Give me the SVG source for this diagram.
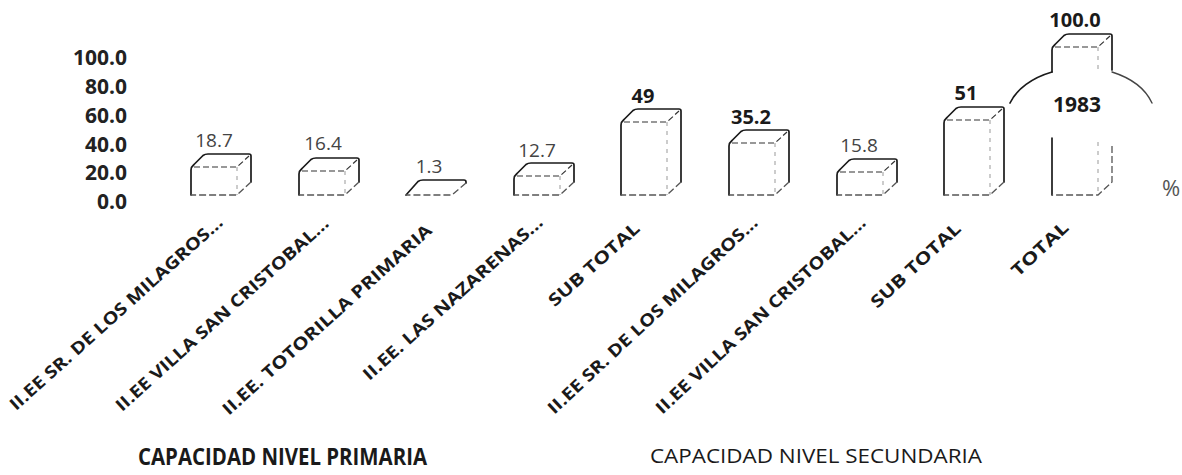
<svg xmlns="http://www.w3.org/2000/svg" width="1182" height="475" viewBox="0 0 1182 475">
<style>
text{font-family:"Open Sans","Liberation Sans",sans-serif;fill:#1a1a1a}
.ax{font-size:21px;font-weight:bold;text-anchor:end;fill:#222}
.val{font-size:19px;text-anchor:middle}
.vb{font-weight:bold;font-size:20px}
.vl{fill:#444}
.cat{font-size:17px;font-weight:bold;text-anchor:end}
.solid{fill:none;stroke:#1a1a1a;stroke-width:1.7;stroke-linejoin:round;stroke-linecap:round}
.dash{fill:none;stroke:#555;stroke-width:1.3;stroke-dasharray:7 3}
.inner{fill:none;stroke:#333;stroke-width:1.2;stroke-dasharray:6 3}
.fr{fill:none;stroke:#999;stroke-width:1;stroke-dasharray:4 5}
</style>
<rect width="1182" height="475" fill="#fff"/>
<g id="y-axis">
<text class="ax" x="127" y="65">100.0</text>
<text class="ax" x="127" y="94">80.0</text>
<text class="ax" x="127" y="123">60.0</text>
<text class="ax" x="127" y="152">40.0</text>
<text class="ax" x="127" y="180">20.0</text>
<text class="ax" x="127" y="209">0.0</text>
</g>
<g id="bar1">
<path class="solid" d="M191,195 V170 Q191,167 194,164.5 L203,155.5 Q205,154 208,154 H249 Q251,154 251,156 V182"/>
<path class="dash" d="M251,182 L237,195 H191"/>
<path class="inner" d="M194,167 H237 L249,156"/>
<path class="fr" d="M237,167 V195"/>
<text class="val vl" x="214" y="147">18.7</text>
</g>
<g id="bar2">
<path class="solid" d="M299,195 V174 Q299,171 302,168.5 L311,159.5 Q313,158 316,158 H357 Q359,158 359,160 V182"/>
<path class="dash" d="M359,182 L345,195 H299"/>
<path class="inner" d="M302,171 H345 L357,160"/>
<path class="fr" d="M345,171 V195"/>
<text class="val vl" x="323" y="150">16.4</text>
</g>
<g id="bar3">
<path class="solid" d="M406,195 L418,181.5 Q420,180 423,180 H464 Q466,180 466,182 V183"/>
<path class="dash" d="M466,183 L452,195 H406"/>
<text class="val vl" x="429" y="173">1.3</text>
</g>
<g id="bar4">
<path class="solid" d="M514,195 V179 Q514,176 517,173.5 L526,164.5 Q528,163 531,163 H572 Q574,163 574,165 V182"/>
<path class="dash" d="M574,182 L560,195 H514"/>
<path class="inner" d="M517,176 H560 L572,165"/>
<path class="fr" d="M560,176 V195"/>
<text class="val vl" x="537" y="157">12.7</text>
</g>
<g id="bar5">
<path class="solid" d="M621,195 V125 Q621,122 624,119.5 L633,110.5 Q635,109 638,109 H679 Q681,109 681,111 V182"/>
<path class="dash" d="M681,182 L667,195 H621"/>
<path class="inner" d="M624,122 H667 L679,111"/>
<path class="fr" d="M667,122 V195"/>
<text class="val vb" x="643" y="103">49</text>
</g>
<g id="bar6">
<path class="solid" d="M729,195 V146 Q729,143 732,140.5 L741,131.5 Q743,130 746,130 H787 Q789,130 789,132 V182"/>
<path class="dash" d="M789,182 L775,195 H729"/>
<path class="inner" d="M732,143 H775 L787,132"/>
<path class="fr" d="M775,143 V195"/>
<text class="val vb" x="751" y="124">35.2</text>
</g>
<g id="bar7">
<path class="solid" d="M837,195 V175 Q837,172 840,169.5 L849,160.5 Q851,159 854,159 H895 Q897,159 897,161 V182"/>
<path class="dash" d="M897,182 L883,195 H837"/>
<path class="inner" d="M840,172 H883 L895,161"/>
<path class="fr" d="M883,172 V195"/>
<text class="val vl" x="859" y="152">15.8</text>
</g>
<g id="bar8">
<path class="solid" d="M944,195 V123 Q944,120 947,117.5 L956,108.5 Q958,107 961,107 H1002 Q1004,107 1004,109 V182"/>
<path class="dash" d="M1004,182 L990,195 H944"/>
<path class="inner" d="M947,120 H990 L1002,109"/>
<path class="fr" d="M990,120 V195"/>
<text class="val vb" x="966" y="100">51</text>
</g>
<g id="bar9">
<path class="solid" d="M1052,72 V50 Q1052,47 1055,44.5 L1064,35.5 Q1066,34 1069,34 H1110 Q1112,34 1112,36 V70"/>
<path class="solid" d="M1052,138 V195"/>
<path class="dash" d="M1112,146 V182 L1098,195 H1052"/>
<path class="inner" d="M1055,47 H1098 L1110,36"/>
<path class="fr" d="M1098,47 V70 M1098,142 V195"/>
<path class="solid" d="M1010,103 A75,51 0 0,1 1052,72"/>
<path class="solid" style="stroke:#444;stroke-width:1.4" d="M1112,72 A75,51 0 0,1 1152,103"/>
<text class="val vb" x="1075" y="27" style="font-size:20px">100.0</text>
<text class="val vb" x="1077" y="112" style="font-size:21px">1983</text>
</g>
<text x="1162" y="196" style="font-size:22px;fill:#555">%</text>
<g id="categories">
<text class="cat" transform="translate(224,224) rotate(-42)" textLength="280" lengthAdjust="spacingAndGlyphs">II.EE SR. DE LOS MILAGROS...</text>
<text class="cat" transform="translate(330,225) rotate(-42)" textLength="280" lengthAdjust="spacingAndGlyphs">II.EE VILLA SAN CRISTOBAL...</text>
<text class="cat" transform="translate(433,232) rotate(-42)" textLength="275" lengthAdjust="spacingAndGlyphs">II.EE. TOTORILLA PRIMARIA</text>
<text class="cat" transform="translate(544,224) rotate(-42)" textLength="235" lengthAdjust="spacingAndGlyphs">II.EE. LAS NAZARENAS...</text>
<text class="cat" transform="translate(641,230) rotate(-42)" textLength="116" lengthAdjust="spacingAndGlyphs">SUB TOTAL</text>
<text class="cat" transform="translate(759,224) rotate(-43)" textLength="280" lengthAdjust="spacingAndGlyphs">II.EE SR. DE LOS MILAGROS...</text>
<text class="cat" transform="translate(867,224) rotate(-43)" textLength="280" lengthAdjust="spacingAndGlyphs">II.EE VILLA SAN CRISTOBAL...</text>
<text class="cat" transform="translate(962,230) rotate(-43)" textLength="116" lengthAdjust="spacingAndGlyphs">SUB TOTAL</text>
<text class="cat" transform="translate(1070,229) rotate(-43)" textLength="71" lengthAdjust="spacingAndGlyphs">TOTAL</text>
</g>
<g id="titles">
<text x="282.5" y="465" text-anchor="middle" style="font-size:24px;font-weight:bold" textLength="289" lengthAdjust="spacingAndGlyphs">CAPACIDAD NIVEL PRIMARIA</text>
<text x="816" y="463" text-anchor="middle" style="font-size:20px" textLength="332" lengthAdjust="spacingAndGlyphs">CAPACIDAD NIVEL SECUNDARIA</text>
</g>
</svg>
